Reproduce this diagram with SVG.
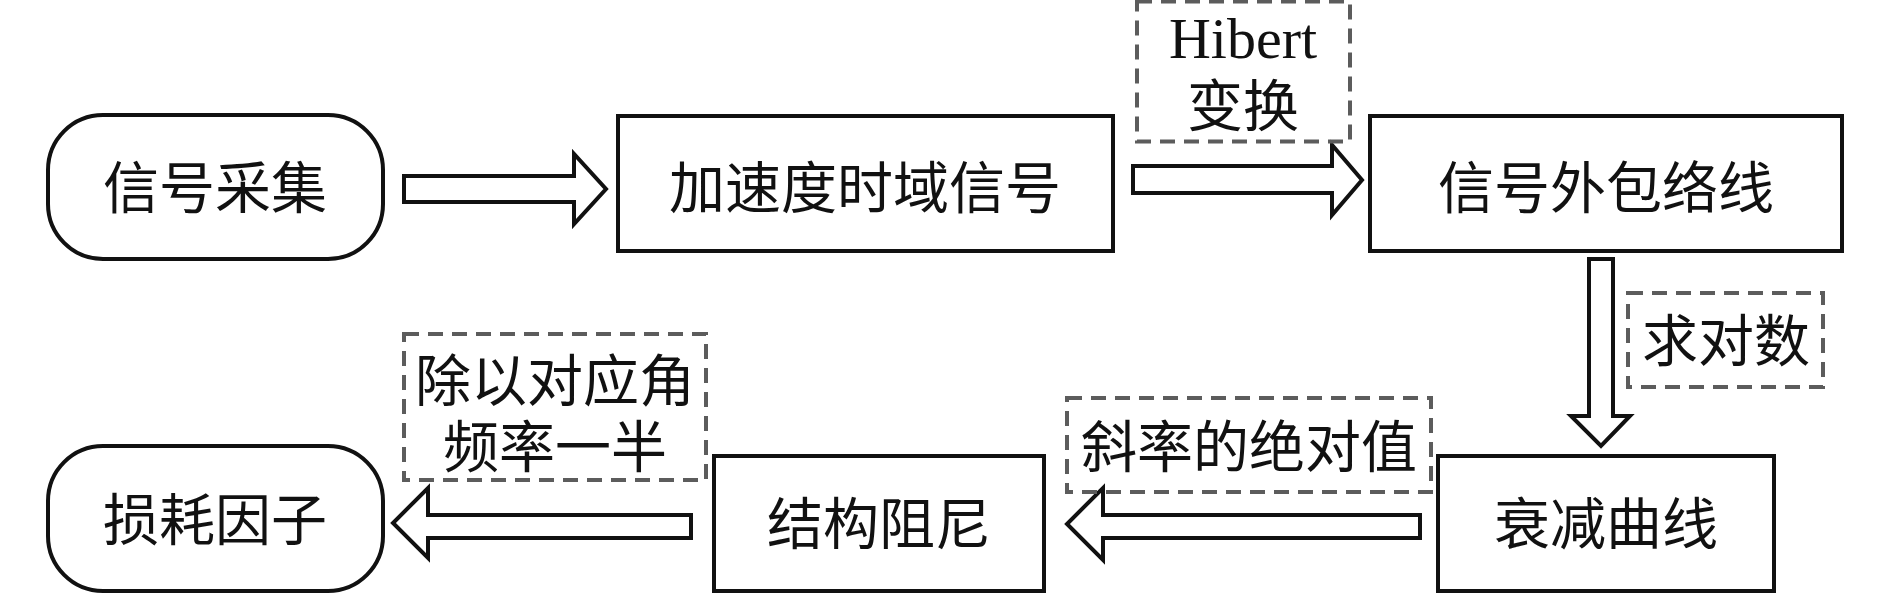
<svg xmlns="http://www.w3.org/2000/svg" width="1890" height="596" viewBox="0 0 1890 596">
<style>
.box{fill:#fff;stroke:#111;stroke-width:4}
.dash{fill:none;stroke:#5c5c5c;stroke-width:4;stroke-dasharray:15 9}
.arr{fill:#fff;stroke:#111;stroke-width:4;stroke-linejoin:miter}
.t{font-family:"Noto Sans CJK SC","Noto Sans",sans-serif;font-size:56px;fill:#111;text-anchor:middle}
.e{font-family:"Liberation Serif","Noto Sans CJK SC",serif;font-size:58px}
</style>
<rect width="1890" height="596" fill="#fff"/>
<g id="connectors">
<polygon class="arr" points="404,176 574,176 574,154 606,189 574,224 574,202 404,202"/>
<polygon class="arr" points="1133,166 1332,166 1332,145 1362,180 1332,215 1332,193 1133,193"/>
<polygon class="arr" points="1589,259 1613,259 1613,416 1630,416 1601,446 1571,416 1589,416"/>
<polygon class="arr" points="1420,515 1103,515 1103,488 1067,524 1103,560 1103,538 1420,538"/>
<polygon class="arr" points="691,515 428,515 428,488 393,523 428,558 428,538 691,538"/>
</g>
<g id="n1"><rect class="box" x="48" y="115" width="335" height="144" rx="55" ry="55"/><text class="t" x="215" y="208">信号采集</text></g>
<g id="n2"><rect class="box" x="618" y="116" width="495" height="135"/><text class="t" x="865" y="208">加速度时域信号</text></g>
<g id="n3"><rect class="box" x="1370" y="116" width="472" height="135"/><text class="t" x="1606" y="208">信号外包络线</text></g>
<g id="n4"><rect class="box" x="1438" y="456" width="336" height="135"/><text class="t" x="1606" y="544">衰减曲线</text></g>
<g id="n5"><rect class="box" x="714" y="456" width="330" height="135"/><text class="t" x="879" y="544">结构阻尼</text></g>
<g id="n6"><rect class="box" x="48" y="446" width="335" height="145" rx="55" ry="55"/><text class="t" x="215" y="540">损耗因子</text></g>
<g id="l1"><rect class="dash" x="1137" y="1.5" width="213" height="140"/><text class="t"><tspan class="e" x="1243" y="58">Hibert</tspan><tspan x="1243" y="126">变换</tspan></text></g>
<g id="l2"><rect class="dash" x="1628" y="293" width="195" height="94"/><text class="t" x="1726" y="361">求对数</text></g>
<g id="l3"><rect class="dash" x="1067" y="398" width="364" height="94"/><text class="t" x="1249" y="467">斜率的绝对值</text></g>
<g id="l4"><rect class="dash" x="404" y="334" width="302" height="146"/><text class="t"><tspan x="555" y="401">除以对应角</tspan><tspan x="555" y="467">频率一半</tspan></text></g>
</svg>
